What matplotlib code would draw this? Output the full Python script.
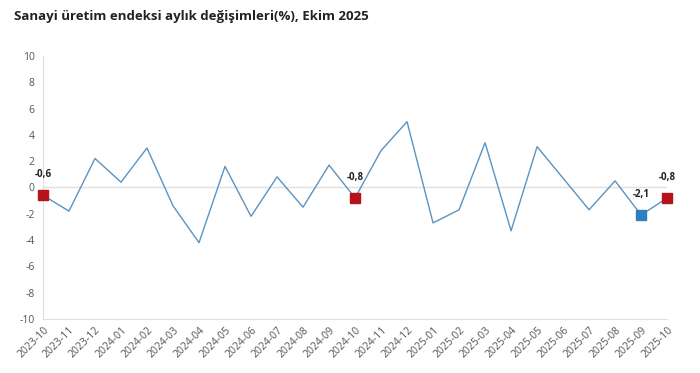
import matplotlib.pyplot as plt

plt.rcParams['font.family'] = ['Open Sans', 'DejaVu Sans']
plt.rcParams['axes.unicode_minus'] = False

# monthly change (%) of industrial production index
months = ['2023-10', '2023-11', '2023-12', '2024-01', '2024-02', '2024-03',
          '2024-04', '2024-05', '2024-06', '2024-07', '2024-08', '2024-09',
          '2024-10', '2024-11', '2024-12', '2025-01', '2025-02', '2025-03',
          '2025-04', '2025-05', '2025-06', '2025-07', '2025-08', '2025-09',
          '2025-10']
values = [-0.6, -1.8, 2.2, 0.4, 3.0, -1.4,
          -4.2, 1.6, -2.2, 0.8, -1.5, 1.7,
          -0.8, 2.8, 5.0, -2.7, -1.7, 3.4,
          -3.3, 3.1, 0.7, -1.7, 0.5, -2.1,
          -0.8]
# highlighted points: (index, colour)
highlights = [(0, '#b5121b'), (12, '#b5121b'), (23, '#2e7fc0'), (24, '#b5121b')]

fig = plt.figure(figsize=(7, 3.73), dpi=100)
ax = fig.add_axes([0.0614, 0.145, 0.8916, 0.705])

x = list(range(len(months)))
ax.plot(x, values, color='#5b93c0', lw=1.0, zorder=2)
ax.axhline(0, color='#e0e0e0', lw=1.0, zorder=1)

for i, c in highlights:
    ax.plot(x[i], values[i], marker='s', ms=7.5, color=c, zorder=3, clip_on=False)
    lbl = ('%.1f' % values[i]).replace('.', ',')
    ax.annotate(lbl, (x[i], values[i]), xytext=(0, 11), textcoords='offset points',
                ha='center', va='bottom', fontsize=7, fontweight='bold', color='#222222')

ax.set_xlim(0, 24)
ax.set_ylim(-10, 10)
ax.set_yticks(range(-10, 11, 2))
ax.set_xticks(x)
ax.set_xticklabels(months, rotation=45, ha='right', rotation_mode='anchor')
ax.tick_params(length=0, labelsize=7.5, labelcolor='#555555', pad=6)
ax.tick_params(axis='x', pad=4)

for s in ['top', 'right']:
    ax.spines[s].set_visible(False)
for s in ['left', 'bottom']:
    ax.spines[s].set_color('#e0e0e0')

fig.text(0.02, 0.955, 'Sanayi üretim endeksi aylık değişimleri(%), Ekim 2025',
         fontsize=9.5, fontweight='bold', color='#222222', va='center')

fig.savefig('out.png')
